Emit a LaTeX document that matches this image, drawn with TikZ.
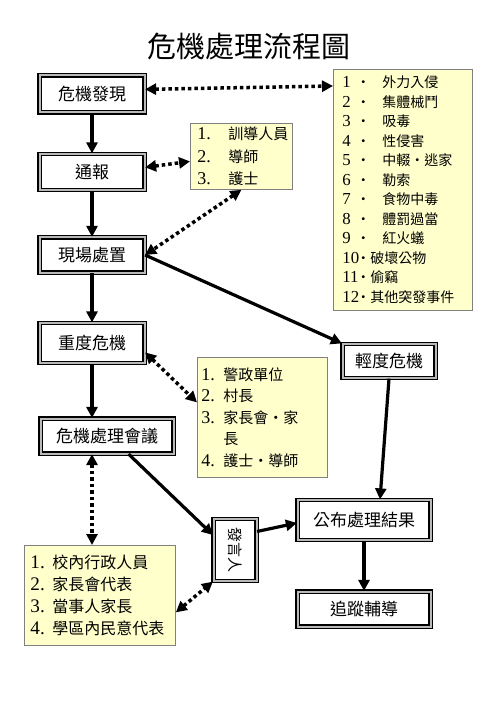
\documentclass[tikz,border=0pt]{standalone}
\usepackage{fontspec}
\setmainfont{Noto Sans CJK TC}
\newfontfamily\digitfont[Scale=1.2]{Liberation Serif}
\usetikzlibrary{arrows.meta}
\definecolor{noteyellow}{HTML}{FFFFCC}
\newcommand{\nr}[2]{\makebox[#1][l]{\digitfont #2}}

\begin{document}
\begin{tikzpicture}[x=1pt, y=-1pt,
    stepbox/.style={draw=black, line width=1.2pt, double=gray!55, double distance=2pt,
        fill=white, inner sep=0pt, font=\fontsize{17}{20}\selectfont},
    note/.style={draw=gray, line width=0.8pt, fill=noteyellow, anchor=north west, align=left},
    flow/.style={line width=3.2pt, -{Triangle[length=11pt,width=11pt]}},
    link/.style={line width=3.5pt, dash pattern=on 3.5pt off 3pt,
        {Triangle[length=11pt,width=11pt]}-{Triangle[length=11pt,width=11pt]}}]
    \useasboundingbox (0,0) rectangle (500,708);

    \node (title) at (249,47) {\fontsize{29}{32}\selectfont 危機處理流程圖};

    % main steps
    \node[stepbox, minimum width=105, minimum height=37] (alarm)    at (92,94)   {危機發現};
    \node[stepbox, minimum width=105, minimum height=36] (report)   at (92,172)  {通報};
    \node[stepbox, minimum width=105, minimum height=35] (scene)    at (92,255)  {現場處置};
    \node[stepbox, minimum width=105, minimum height=40] (severe)   at (92,343)  {重度危機};
    \node[stepbox, minimum width=133, minimum height=35] (meeting)  at (107,436) {危機處理會議};
    \node[stepbox, minimum width=93,  minimum height=34] (mild)     at (389,361) {輕度危機};
    \node[stepbox, minimum width=43,  minimum height=62, font=\fontsize{15}{18}\selectfont]
                                                         (speaker)  at (235,550) {\rotatebox{-90}{發言人}};
    \node[stepbox, minimum width=133, minimum height=40] (announce) at (364,520) {公布處理結果};
    \node[stepbox, minimum width=133, minimum height=35] (follow)   at (364,609) {追蹤輔導};

    % lists
    \node[note, text width=121pt, inner xsep=9pt, minimum height=241,
          font=\fontsize{14}{19.5}\selectfont] (types) at (333,69) {%
        \nr{14pt}{1}‧\hspace{12pt}外力入侵\\
        \nr{14pt}{2}‧\hspace{12pt}集體械鬥\\
        \nr{14pt}{3}‧\hspace{12pt}吸毒\\
        \nr{14pt}{4}‧\hspace{12pt}性侵害\\
        \nr{14pt}{5}‧\hspace{12pt}中輟‧逃家\\
        \nr{14pt}{6}‧\hspace{12pt}勒索\\
        \nr{14pt}{7}‧\hspace{12pt}食物中毒\\
        \nr{14pt}{8}‧\hspace{12pt}體罰過當\\
        \nr{14pt}{9}‧\hspace{12pt}紅火蟻\\
        \nr{14pt}{10}‧破壞公物\\
        \nr{14pt}{11}‧偷竊\\
        \nr{14pt}{12}‧其他突發事件};
    \node[note, text width=88pt, inner xsep=7pt, minimum height=66,
          font=\fontsize{15}{22.5}\selectfont] (staff) at (190,123) {%
        \nr{31pt}{1.}訓導人員\\
        \nr{31pt}{2.}導師\\
        \nr{31pt}{3.}護士};
    \node[note, text width=122pt, inner xsep=4pt, minimum height=120,
          font=\fontsize{15}{21.5}\selectfont] (agency) at (197,357) {%
        \nr{22pt}{1.}警政單位\\
        \nr{22pt}{2.}村長\\
        \nr{22pt}{3.}家長會‧家\\
        \hspace{22pt}長\\
        \nr{22pt}{4.}護士‧導師};
    \node[note, text width=139pt, inner xsep=6pt, minimum height=100,
          font=\fontsize{16}{22}\selectfont] (members) at (24,545) {%
        \nr{22pt}{1.}校內行政人員\\
        \nr{22pt}{2.}家長會代表\\
        \nr{22pt}{3.}當事人家長\\
        \nr{22pt}{4.}學區內民意代表};

    % solid flow
    \path[flow]
        (alarm) edge (report)
        (report) edge (scene)
        (scene) edge (severe)
        (severe.south) edge (severe.south |- meeting.north)
        (scene.east) edge (mild.north west)
        (mild.south) edge ([xshift=16pt]announce.north)
        (meeting.-40) edge ([yshift=15pt]speaker.west)
        (speaker.40) edge ([yshift=-3pt]announce.west)
        (announce) edge (follow)
        ;

    % dotted links
    \path[link]
        (alarm.5) edge ([yshift=-17pt]types.north west)
        (report.5) edge ([yshift=-5pt]staff.west)
        (staff.south) edge (scene.east)
        (severe.-10) edge ([yshift=15pt]agency.west)
        (severe.south |- meeting.south) edge (severe.south |- members.north)
        ([yshift=-17pt]members.east) edge (speaker.south west)
        ;
\end{tikzpicture}
\end{document}
